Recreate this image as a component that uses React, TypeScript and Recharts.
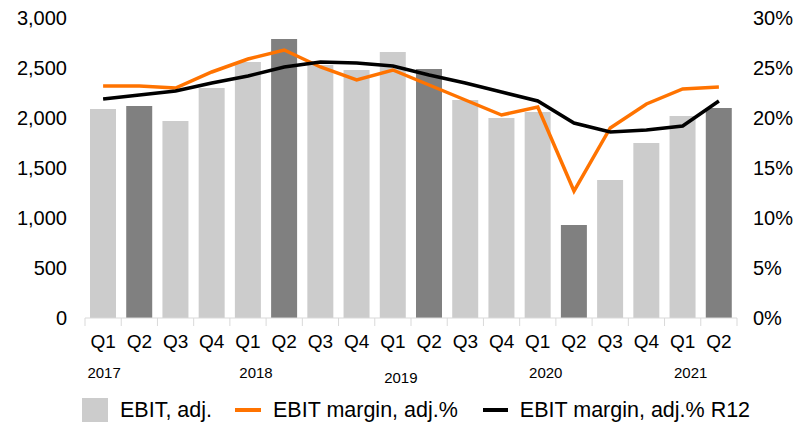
import { ComposedChart, Bar, Line, XAxis, YAxis, Cell } from "recharts";

const quarters = ["Q1", "Q2", "Q3", "Q4", "Q1", "Q2", "Q3", "Q4", "Q1", "Q2", "Q3", "Q4", "Q1", "Q2", "Q3", "Q4", "Q1", "Q2"];
const years = ["2017", "2017", "2017", "2017", "2018", "2018", "2018", "2018", "2019", "2019", "2019", "2019", "2020", "2020", "2020", "2020", "2021", "2021"];
const ebitAdj = [2090, 2120, 1970, 2300, 2560, 2790, 2530, 2480, 2660, 2490, 2180, 2000, 2060, 930, 1380, 1750, 2020, 2100];
const marginAdj = [23.2, 23.2, 23.0, 24.6, 25.9, 26.8, 25.1, 23.8, 24.8, 23.3, 21.8, 20.3, 21.1, 12.7, 19.0, 21.4, 22.9, 23.1];
const marginR12 = [21.9, 22.3, 22.7, 23.5, 24.2, 25.1, 25.6, 25.5, 25.2, 24.3, 23.5, 22.6, 21.7, 19.5, 18.6, 18.8, 19.2, 21.7];
const leftTicks = [0, 500, 1000, 1500, 2000, 2500, 3000];
const rightTicks = [0, 5, 10, 15, 20, 25, 30];

const LIGHT = "#cccccc";
const DARK = "#808080";
const ORANGE = "#ff7300";
const AXIS = "#d9d9d9";
const FONT = "'Liberation Sans', Arial, sans-serif";

const data = quarters.map((q, i) => ({
  key: i,
  q,
  year: years[i],
  ebit: ebitAdj[i],
  margin: marginAdj[i],
  r12: marginR12[i],
}));

const QuarterTick = (props: any) => {
  const { x, y, payload, index } = props;
  const half = payload?.offset ?? 18.1;
  const d = data[index] ?? data[payload.value];
  const showYear = d && d.q === "Q1";
  const isLast = index === data.length - 1;
  return (
    <g>
      <line x1={x - half} x2={x - half} y1={y} y2={y + 8} stroke={AXIS} />
      {isLast && <line x1={x + half} x2={x + half} y1={y} y2={y + 8} stroke={AXIS} />}
      <text x={x} y={y + 30} textAnchor="middle" fontSize={19} fill="#000" fontFamily={FONT}>
        {d ? d.q : ""}
      </text>
      {showYear && (
        <text
          x={x + (d.year === "2017" ? 1 : 8)}
          y={y + (d.year === "2019" ? 65 : 60)}
          textAnchor="middle"
          fontSize={15}
          fill="#000"
          fontFamily={FONT}
        >
          {d.year}
        </text>
      )}
    </g>
  );
};

export default function App() {
  return (
    <div style={{ position: "absolute", left: 0, top: 0, width: 811, height: 423, background: "#fff", fontFamily: FONT }}>
      <ComposedChart width={811} height={400} data={data} margin={{ top: 18, right: 0, bottom: 0, left: 0 }}>
        <XAxis
          dataKey="key"
          xAxisId="x"
          height={82}
          tickLine={false}
          tickSize={0}
          tickMargin={0}
          axisLine={{ stroke: AXIS }}
          interval={0}
          tick={<QuarterTick />}
        />
        <YAxis
          yAxisId="left"
          width={85}
          domain={[0, 3000]}
          ticks={leftTicks}
          axisLine={false}
          tickLine={false}
          tickSize={0}
          tickMargin={18}
          tick={{ fontSize: 20, fill: "#000", fontFamily: FONT }}
          tickFormatter={(v: number) => v.toLocaleString("en-US")}
        />
        <YAxis
          yAxisId="right"
          orientation="right"
          width={74}
          domain={[0, 30]}
          ticks={rightTicks}
          axisLine={false}
          tickLine={false}
          tickSize={0}
          tickMargin={16}
          tick={{ fontSize: 20, fill: "#000", fontFamily: FONT }}
          tickFormatter={(v: number) => `${v}%`}
        />
        <Bar dataKey="ebit" xAxisId="x" yAxisId="left" barSize={26} isAnimationActive={false}>
          {data.map((d) => (
            <Cell key={d.key} fill={d.q === "Q2" ? DARK : LIGHT} />
          ))}
        </Bar>
        <Line
          dataKey="margin"
          xAxisId="x"
          yAxisId="right"
          type="linear"
          stroke={ORANGE}
          strokeWidth={3.5}
          dot={false}
          isAnimationActive={false}
        />
        <Line
          dataKey="r12"
          xAxisId="x"
          yAxisId="right"
          type="linear"
          stroke="#000"
          strokeWidth={3.5}
          dot={false}
          isAnimationActive={false}
        />
      </ComposedChart>
      <div
        style={{
          position: "absolute",
          top: 398,
          left: 82,
          display: "flex",
          alignItems: "center",
          fontSize: 21.5,
          color: "#000",
          whiteSpace: "nowrap",
          lineHeight: "24px",
        }}
      >
        <span style={{ display: "inline-block", width: 26, height: 24, background: LIGHT, marginRight: 12 }} />
        <span>EBIT, adj.</span>
        <span style={{ display: "inline-block", width: 26, height: 4, background: ORANGE, marginLeft: 23, marginRight: 12 }} />
        <span>EBIT margin, adj.%</span>
        <span style={{ display: "inline-block", width: 25, height: 4, background: "#000", marginLeft: 25, marginRight: 12 }} />
        <span>EBIT margin, adj.% R12</span>
      </div>
    </div>
  );
}
